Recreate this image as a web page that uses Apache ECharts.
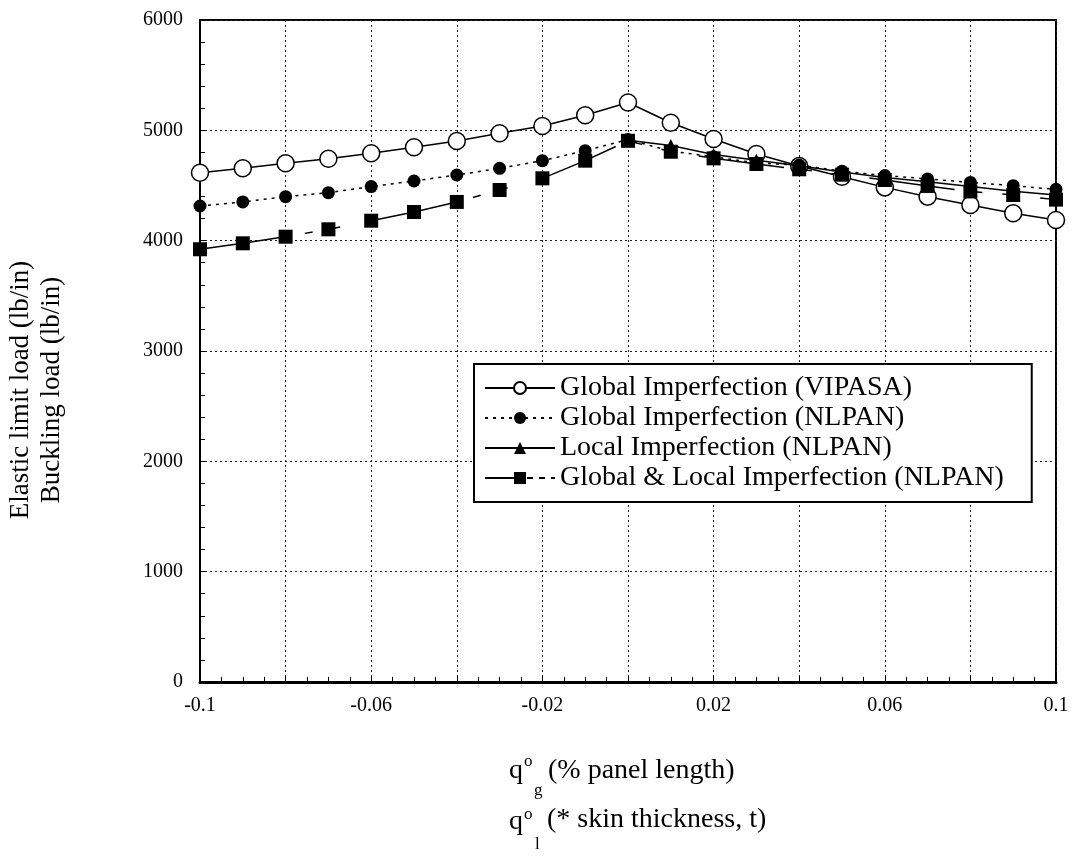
<!DOCTYPE html>
<html>
<head>
<meta charset="utf-8">
<script src="https://cdn.jsdelivr.net/npm/echarts@6/dist/echarts.min.js"></script>
<style>
html,body{margin:0;padding:0;background:#fff;}
#chart{width:1075px;height:859px;}
</style>
</head>
<body>
<div id="chart"></div>
<script>
// ---- data ----
const xValues = [-0.1,-0.09,-0.08,-0.07,-0.06,-0.05,-0.04,-0.03,-0.02,-0.01,0,0.01,0.02,0.03,0.04,0.05,0.06,0.07,0.08,0.09,0.1];
const vipasa = [4616,4656,4701,4743,4792,4846,4903,4973,5039,5136,5252,5069,4921,4785,4677,4580,4483,4399,4323,4248,4187];
const nlpanGlobal = [4314,4351,4399,4435,4490,4541,4595,4656,4725,4816,4916,4812,4760,4705,4685,4630,4590,4560,4528,4498,4465];
const localX = [0,0.01,0.02,0.03,0.04,0.05,0.06,0.07,0.08,0.09,0.1];
const nlpanLocal = [4910,4862,4780,4728,4680,4622,4572,4533,4490,4448,4414];
const nlpanBoth = [3922,3976,4036,4103,4181,4260,4351,4459,4565,4725,4905,4806,4746,4695,4647,4598,4550,4496,4446,4414,4372];
const seriesNames = ['Global Imperfection (VIPASA)','Global Imperfection (NLPAN)','Local Imperfection (NLPAN)','Global & Local Imperfection (NLPAN)'];
const xTickLabels = ['-0.1','','-0.06','','-0.02','','0.02','','0.06','','0.1'];
const yTickLabels = ['0','1000','2000','3000','4000','5000','6000'];
const yTitle = 'Elastic limit load (lb/in)\nBuckling load (lb/in)';

function pairs(xs, ys){ return xs.map((x,i)=>[x, ys[i]]); }

const FONT = '"Liberation Serif", "DejaVu Serif", serif';
const chart = echarts.init(document.getElementById('chart'));
chart.setOption({
  backgroundColor:'#fff',
  animation:false,
  grid:{left:200, top:20, right:19, bottom:177, show:true, borderColor:'#000', borderWidth:2, backgroundColor:'transparent'},
  xAxis:{
    type:'value', min:-0.1, max:0.1, interval:0.02,
    axisLine:{show:true, onZero:false, lineStyle:{color:'#000', width:3}},
    axisTick:{show:true, inside:true, length:6, lineStyle:{color:'#000'}},
    minorTick:{show:true, splitNumber:4, length:5, lineStyle:{color:'#000'}},
    splitLine:{show:true, lineStyle:{color:'#222', type:[2,3], width:1}},
    axisLabel:{margin:14, color:'#000', fontFamily:FONT, fontSize:20,
      formatter:(v,i)=>xTickLabels[i] ?? ''}
  },
  yAxis:{
    type:'value', min:0, max:6000, interval:1000,
    axisLine:{show:true, onZero:false, lineStyle:{color:'#000', width:2}},
    axisTick:{show:true, inside:true, length:6, lineStyle:{color:'#000'}},
    minorTick:{show:true, splitNumber:5, length:5, lineStyle:{color:'#000'}},
    splitLine:{show:true, lineStyle:{color:'#222', type:[2,3], width:1}},
    axisLabel:{margin:17, color:'#000', fontFamily:FONT, fontSize:20,
      formatter:(v,i)=>yTickLabels[i] ?? ''}
  },
  legend:{
    orient:'vertical', left:474, top:364,
    backgroundColor:'#fff', borderColor:'#000', borderWidth:2,
    padding:[9,28,9,10], itemGap:0, itemWidth:70, itemHeight:15,
    textStyle:{fontFamily:FONT, fontSize:28, lineHeight:30, color:'#000'},
    data:[
      {name:seriesNames[0]},
      {name:seriesNames[1]},
      {name:seriesNames[2]},
      {name:seriesNames[3], lineStyle:{type:[36,6,6,6,6,6,6,6]}}
    ]
  },
  series:[
    {name:seriesNames[0], type:'line', data:pairs(xValues, vipasa),
     symbol:'circle', symbolSize:17,
     itemStyle:{color:'#fff', borderColor:'#000', borderWidth:1.5},
     lineStyle:{color:'#000', width:1.5, type:'solid'}, z:2},
    {name:seriesNames[1], type:'line', data:pairs(xValues, nlpanGlobal),
     symbol:'circle', symbolSize:13,
     itemStyle:{color:'#000', borderColor:'#000', borderWidth:0},
     lineStyle:{color:'#000', width:1.5, type:[3,5]}, z:3},
    {name:seriesNames[2], type:'line', data:pairs(localX, nlpanLocal),
     symbol:'triangle', symbolSize:13,
     itemStyle:{color:'#000', borderColor:'#000', borderWidth:0},
     lineStyle:{color:'#000', width:1.5, type:'solid'}, z:3},
    {name:seriesNames[3], type:'line', data:pairs(xValues, nlpanBoth),
     symbol:'rect', symbolSize:14,
     itemStyle:{color:'#000', borderColor:'#000', borderWidth:0},
     lineStyle:{color:'#000', width:1.5, type:[86,20,8,20,8,30]}, z:3}
  ],
  graphic:[
    {type:'text', x:36, y:390, rotation:Math.PI/2,
     style:{text:yTitle, align:'center', verticalAlign:'middle', lineHeight:31,
            font:'27px '+FONT, fill:'#000'}},
    {type:'text', x:509, y:771, style:{text:'q', verticalAlign:'middle', font:'28px '+FONT, fill:'#000'}},
    {type:'text', x:524, y:762, style:{text:'o', verticalAlign:'middle', font:'17px '+FONT, fill:'#000'}},
    {type:'text', x:534, y:791, style:{text:'g', verticalAlign:'middle', font:'17px '+FONT, fill:'#000'}},
    {type:'text', x:548, y:771, style:{text:'(% panel length)', verticalAlign:'middle', font:'28px '+FONT, fill:'#000'}},
    {type:'text', x:509, y:822, style:{text:'q', verticalAlign:'middle', font:'28px '+FONT, fill:'#000'}},
    {type:'text', x:524, y:815, style:{text:'o', verticalAlign:'middle', font:'17px '+FONT, fill:'#000'}},
    {type:'text', x:535, y:845, style:{text:'l', verticalAlign:'middle', font:'17px '+FONT, fill:'#000'}},
    {type:'text', x:547, y:820, style:{text:'(* skin thickness, t)', verticalAlign:'middle', font:'28px '+FONT, fill:'#000'}}
  ]
});
</script>
</body>
</html>
